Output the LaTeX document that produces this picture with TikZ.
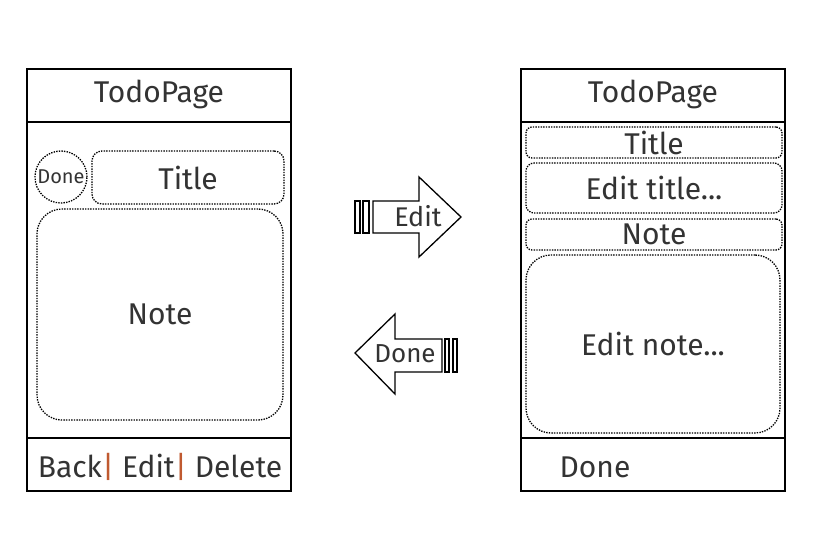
\documentclass[tikz,border=0pt]{standalone}
\usepackage{fontspec}
\setmainfont{Fira Sans}
\usetikzlibrary{positioning}
\definecolor{ink}{HTML}{333333}
\definecolor{sepcol}{HTML}{C05A30}
\tikzset{
	frame/.style={draw, line width=1.3pt},
	field/.style={draw, line width=1.3pt, dash pattern=on 1.4pt off 1.2pt, rounded corners=10pt, inner sep=0pt},
	lbl/.style={text=ink, font=\fontsize{30}{30}\selectfont},
	small/.style={text=ink, font=\fontsize{20}{20}\selectfont},
}
\newcommand{\sepbar}{{\color{sepcol}|}}

\begin{document}
\begin{tikzpicture}[x=1pt,y=-1pt]
		\useasboundingbox (0,0) rectangle (820,540);
		%list page
		\draw[frame] (27,69) rectangle (291,491);
		\draw[frame] (27,122) -- (291,122);
		\draw[frame] (27,438) -- (291,438);
		\node[lbl] (headL) at (159,94) {TodoPage};
		\node[field, circle, minimum size=52pt, small] (done) at (61,177) {Done};
		\node[field, minimum width=192pt, minimum height=53pt, lbl] (title) at (188,177.5) {Title};
		\node[field, rounded corners=25pt, minimum width=246pt, minimum height=211pt, lbl] (note) at (160,314.5) {Note};
		\node[lbl] (menu) at (160,467) {Back\sepbar\ Edit\sepbar\ Delete};
		%edit page
		\draw[frame] (521,69) rectangle (785,491);
		\draw[frame] (521,122) -- (785,122);
		\draw[frame] (521,438) -- (785,438);
		\node[lbl] (headR) at (653,94) {TodoPage};
		\node[field, rounded corners=6pt, minimum width=256pt, minimum height=31pt, lbl] (titleR) at (654,142.5) {Title};
		\node[field, rounded corners=8pt, minimum width=256pt, minimum height=50pt, lbl] (edittitle) at (654,188) {Edit title...};
		\node[field, rounded corners=6pt, minimum width=256pt, minimum height=31pt, lbl] (noteR) at (654,234.5) {Note};
		\node[field, rounded corners=25pt, minimum width=254pt, minimum height=178pt, lbl] (editnote) at (653,344) {Edit note...};
		\node[lbl] (doneR) at (595,467) {Done};
		%arrows
		\draw[line width=1.3pt] (373,201) -- (419,201) -- (419,177) -- (461,217) -- (419,257) -- (419,233) -- (373,233) -- cycle;
		\draw[line width=1.3pt] (355,201) rectangle (360,233);
		\draw[line width=1.3pt] (363,201) rectangle (369,233);
		\node[lbl, font=\fontsize{27}{27}\selectfont] (edit) at (418,216) {Edit};
		\draw[line width=1.3pt] (442,339) -- (395,339) -- (395,314) -- (355,353) -- (395,394) -- (395,372) -- (442,372) -- cycle;
		\draw[line width=1.3pt] (445,339) rectangle (449,372);
		\draw[line width=1.3pt] (453,339) rectangle (457,372);
		\node[lbl, font=\fontsize{26}{26}\selectfont] (back) at (405,354) {Done};
	\end{tikzpicture}
\end{document}
